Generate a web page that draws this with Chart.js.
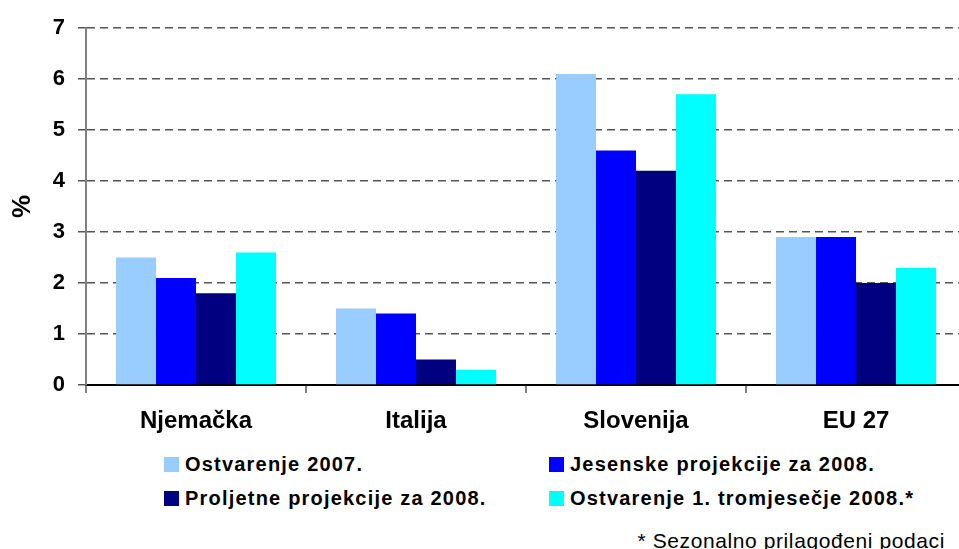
<!DOCTYPE html>
<html>
<head>
<meta charset="utf-8">
<script src="https://cdn.jsdelivr.net/npm/chart.js@4"></script>
<style>
  html, body { margin: 0; padding: 0; overflow: hidden; background: #fff; }
  body { width: 959px; height: 549px; position: relative; font-family: "Liberation Sans", Arial, sans-serif; }
  #wrap { position: absolute; left: 0; top: 0; width: 966px; height: 440px; }
  .leg { position: absolute; display: flex; align-items: center; height: 20px; line-height: 20px;
         font-weight: bold; font-size: 20px; letter-spacing: 1.2px; color: #000; white-space: nowrap; }
  .leg i { display: block; width: 15px; height: 15px; margin-right: 6px; }
  #note { position: absolute; right: 14px; top: 530px; font-size: 21px; line-height: 1; letter-spacing: 0.6px; color: #000; white-space: nowrap; }
</style>
</head>
<body>
<div id="wrap"><canvas id="chart"></canvas></div>
<div id="legend"></div>
<div id="note">* Sezonalno prilagođeni podaci</div>
<script>
const categories = ['Njemačka', 'Italija', 'Slovenija', 'EU 27'];
const seriesNames = ['Ostvarenje 2007.', 'Jesenske projekcije za 2008.', 'Proljetne projekcije za 2008.', 'Ostvarenje 1. tromjesečje 2008.*'];
const ostvarenje2007 = [2.5, 1.5, 6.1, 2.9];
const jesenske2008 = [2.1, 1.4, 4.6, 2.9];
const proljetne2008 = [1.8, 0.5, 4.2, 2.0];
const ostvarenjeQ1 = [2.6, 0.3, 5.7, 2.3];
const yTicks = [0, 1, 2, 3, 4, 5, 6, 7];

const colors = ['#99CCFF', '#0000FF', '#000080', '#00FFFF'];
const seriesData = [ostvarenje2007, jesenske2008, proljetne2008, ostvarenjeQ1];

const chart = new Chart(document.getElementById('chart'), {
  type: 'bar',
  data: {
    labels: categories,
    datasets: seriesNames.map((name, i) => ({
      label: name,
      data: seriesData[i],
      backgroundColor: colors[i],
      borderWidth: 0,
      categoryPercentage: 0.727,
      barPercentage: 1.0
    }))
  },
  options: {
    responsive: true,
    maintainAspectRatio: false,
    animation: false,
    layout: { padding: { top: 28, right: 0, left: 0, bottom: 0 } },
    plugins: { legend: { display: false }, tooltip: { enabled: false } },
    scales: {
      x: {
        grid: { offset: true, drawOnChartArea: false, tickLength: 8, color: '#808080', lineWidth: 2 },
        border: { color: '#000', width: 2 },
        ticks: { padding: 14, color: '#000', font: { family: 'Liberation Sans', size: 24, weight: 'bold' } },
        afterFit: (s) => { s.height = 55; }
      },
      y: {
        min: 0,
        max: 7,
        afterBuildTicks: (s) => { s.ticks = yTicks.map(v => ({ value: v })); },
        grid: { color: '#555', lineWidth: 1.5, tickLength: 8 },
        border: { color: '#808080', width: 2, dash: [8, 5] },
        ticks: { padding: 13, color: '#000', font: { family: 'Liberation Sans', size: 22, weight: 'bold' } },
        title: { display: true, text: '%', color: '#000', padding: { top: 7, bottom: 0 }, font: { family: 'Liberation Sans', size: 26, weight: 'bold' } },
        afterFit: (s) => { s.width = 86; }
      }
    }
  }
});

// legend in two columns, like the original
const legendPos = [[164, 454], [549, 454], [164, 488], [549, 488]];
const legendEl = document.getElementById('legend');
seriesNames.forEach((name, i) => {
  const d = document.createElement('div');
  d.className = 'leg';
  d.style.left = legendPos[i][0] + 'px';
  d.style.top = legendPos[i][1] + 'px';
  d.innerHTML = '<i style="background:' + colors[i] + '"></i>' + name;
  legendEl.appendChild(d);
});
</script>
</body>
</html>
